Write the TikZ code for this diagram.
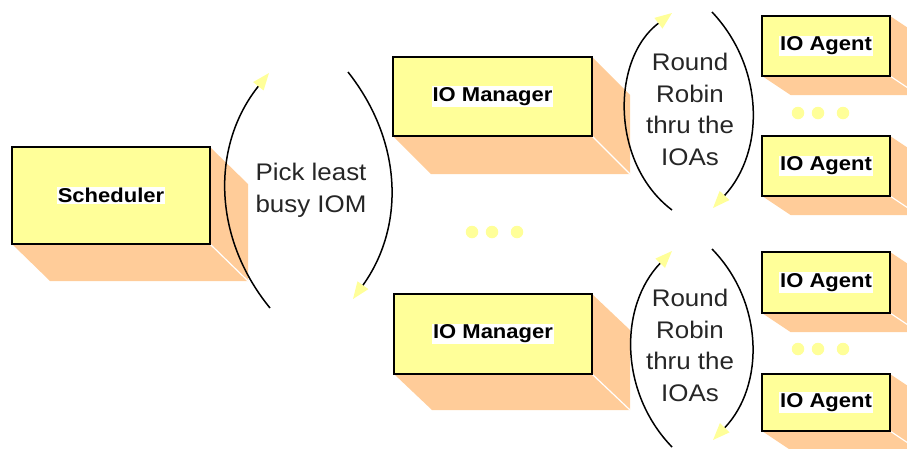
\documentclass[tikz,border=0pt]{standalone}
\usepackage{fontspec}
\setmainfont{Liberation Sans}
\newfontfamily\boxfont[FakeStretch=1.1]{Liberation Sans}
\newfontfamily\notefont[FakeStretch=1.08]{Liberation Sans}
\usetikzlibrary{arrows.meta}

\definecolor{boxyellow}{HTML}{FFFF99}
\definecolor{shadeorange}{HTML}{FFCC99}
\setlength\fboxsep{1pt}

\tikzset{
  unitbox/.style={draw=black, line width=1.4pt, fill=boxyellow, inner sep=0pt,
    font=\boxfont\bfseries\fontsize{20}{22}\selectfont},
  note/.style={font=\notefont\fontsize{24}{31.7}\selectfont, text=black!85, align=center},
  turnarc/.style={line width=1.5pt, -{Triangle[length=17pt,width=13pt,color=boxyellow]}},
  yeldot/.style={circle, fill=boxyellow, minimum size=12.5pt, inner sep=0pt}
}

% #1 name, #2 x1, #3 y1, #4 x2, #5 y2 (top-left / bottom-right, y downwards),
% #6 dx, #7 dy (depth of the block), #8 label
\newcommand\blockbox[8]{%
  \fill[shadeorange] (#4,-#3) -- ++(#6,-#7) -- ({#4+#6},{-#5-#7}) -- ({#2+#6},{-#5-#7}) -- (#2,-#5) -- cycle;
  \draw[white, line width=1.2pt] (#4,-#5) -- ++(#6,-#7);
  \node[unitbox, minimum width={#4-#2}, minimum height={#5-#3}] (#1)
    at ({(#2+#4)/2},{-(#3+#5)/2}) {\colorbox{white}{#8}};
}

\begin{document}
\begin{tikzpicture}[x=1pt,y=1pt]
\useasboundingbox (0,0) rectangle (907,-448);
\clip (0,0) rectangle (907,-448);

% blocks
\blockbox{sched}{12}{147}{210}{244}{38}{37}{Scheduler}
\blockbox{iomA}{393}{57}{592}{136}{38}{38}{IO Manager}
\blockbox{iomB}{394}{294}{592}{374}{38}{36}{IO Manager}
\blockbox{ioaA}{762}{16}{890}{76}{28.5}{19}{IO Agent}
\blockbox{ioaB}{762}{136}{890}{196}{28.5}{19}{IO Agent}
\blockbox{ioaC}{762}{252}{890}{313}{28.5}{19}{IO Agent}
\blockbox{ioaD}{762}{374}{890}{431}{28.5}{19}{IO Agent}

% selection of the IO manager
\coordinate (pl0) at (270,-308); \coordinate (pl1) at (269,-73);
\coordinate (pr0) at (348,-72);  \coordinate (pr1) at (353,-299);
\draw[turnarc] (pl0) to[bend left=39] (pl1);
\draw[turnarc] (pr0) to[bend left=37] (pr1);
\node[note] (pick) at (311,-190) {Pick least\\busy IOM};

% round robin, upper manager
\coordinate (ul0) at (672,-210); \coordinate (ul1) at (672,-13);
\coordinate (ur0) at (712,-12);  \coordinate (ur1) at (713,-208);
\draw[turnarc] (ul0) to[bend left=53] (ul1);
\draw[turnarc] (ur0) to[bend left=43] (ur1);
\node[note] (rrA) at (690,-109.5) {Round\\Robin\\thru the\\IOAs};

% round robin, lower manager
\coordinate (ll0) at (672,-447); \coordinate (ll1) at (672,-251);
\coordinate (lr0) at (712,-249); \coordinate (lr1) at (713,-440);
\draw[turnarc] (ll0) to[bend left=44] (ll1);
\draw[turnarc] (lr0) to[bend left=44] (lr1);
\node[note] (rrB) at (690,-345.3) {Round\\Robin\\thru the\\IOAs};

% ellipsis dots
\node[yeldot] (m1) at (472,-232) {};
\node[yeldot] (m2) at (492,-232) {};
\node[yeldot] (m3) at (517,-232) {};
\node[yeldot] (t1) at (798,-113) {};
\node[yeldot] (t2) at (818,-113) {};
\node[yeldot] (t3) at (843,-113) {};
\node[yeldot] (b1) at (798,-349) {};
\node[yeldot] (b2) at (818,-349) {};
\node[yeldot] (b3) at (843,-349) {};
\end{tikzpicture}
\end{document}
